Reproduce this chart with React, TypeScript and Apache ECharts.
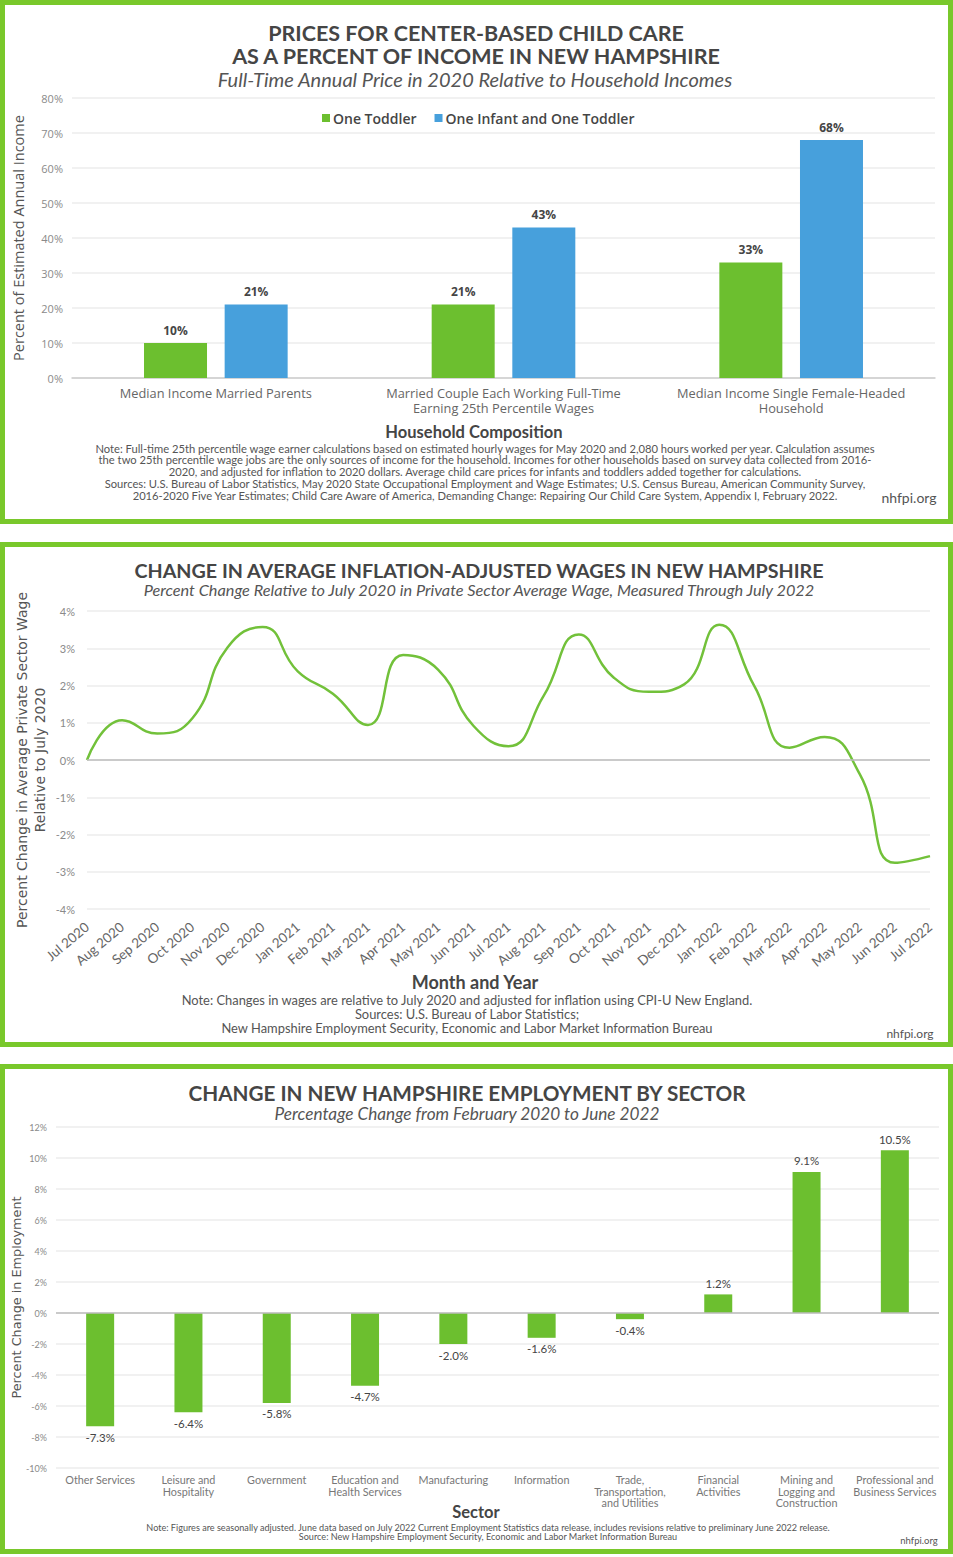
import React, { useEffect, useRef } from "react";
import * as echarts from "echarts";

// ---------- Data ----------
const householdCategories = [
  "Median Income Married Parents",
  "Married Couple Each Working Full-Time\nEarning 25th Percentile Wages",
  "Median Income Single Female-Headed\nHousehold",
];
const oneToddler = [10, 21, 33];
const infantAndToddler = [21, 43, 68];

const months = [
  "Jul 2020", "Aug 2020", "Sep 2020", "Oct 2020", "Nov 2020", "Dec 2020",
  "Jan 2021", "Feb 2021", "Mar 2021", "Apr 2021", "May 2021", "Jun 2021",
  "Jul 2021", "Aug 2021", "Sep 2021", "Oct 2021", "Nov 2021", "Dec 2021",
  "Jan 2022", "Feb 2022", "Mar 2022", "Apr 2022", "May 2022", "Jun 2022",
  "Jul 2022",
];
const wageChange = [
  0, 1.07, 0.71, 1.12, 3.02, 3.57,
  2.38, 1.78, 0.94, 2.82, 2.42, 0.92,
  0.37, 1.72, 3.37, 2.21, 1.83, 2.03,
  3.63, 1.98, 0.33, 0.62, -0.38, -2.76,
  -2.58,
];

const sectors = [
  "Other Services",
  "Leisure and\nHospitality",
  "Government",
  "Education and\nHealth Services",
  "Manufacturing",
  "Information",
  "Trade,\nTransportation,\nand Utilities",
  "Financial\nActivities",
  "Mining and\nLogging and\nConstruction",
  "Professional and\nBusiness Services",
];
const employmentChange = [-7.3, -6.4, -5.8, -4.7, -2.0, -1.6, -0.4, 1.2, 9.1, 10.5];

// ---------- Styling constants ----------
const GREEN = "#6cbf2f";
const BLUE = "#47a0dc";
const BORDER = "#79c82b";
const TITLE = "#454545";
const NOTE = "#555555";
const AXIS = "#8a8a8a";
const GRIDLINE = "#ececec";
const ZERO = "#bdbdbd";
const FONT = "Lato";
const WFONT = "Open Sans";

function txt(text: string, x: number, y: number, fontSize: number, extra: any = {}) {
  return {
    type: "text",
    x,
    y,
    silent: true,
    style: {
      text,
      fontSize,
      fontFamily: extra.fontFamily || FONT,
      fontWeight: extra.fontWeight || "normal",
      fontStyle: extra.fontStyle || "normal",
      fill: extra.fill || NOTE,
      align: extra.align || "center",
      verticalAlign: "middle",
    },
  };
}

function border(y: number, h: number) {
  return {
    type: "rect",
    silent: true,
    shape: { x: 2.5, y: y + 2.5, width: 948, height: h - 5 },
    style: { fill: "none", stroke: BORDER, lineWidth: 5 },
  };
}

export default function App() {
  const ref = useRef<HTMLDivElement>(null);

  useEffect(() => {
    if (!ref.current) return;
    const chart = echarts.init(ref.current, undefined, { renderer: "svg" });

    const note1 = [
      "Note: Full-time 25th percentile wage earner calculations based on estimated hourly wages for May 2020 and 2,080 hours worked per year. Calculation assumes",
      "the two 25th percentile wage jobs are the only sources of income for the household. Incomes for other households based on survey data collected from 2016-",
      "2020, and adjusted for inflation to 2020 dollars. Average child care prices for infants and toddlers added together for calculations.",
      "Sources: U.S. Bureau of Labor Statistics, May 2020 State Occupational Employment and Wage Estimates; U.S. Census Bureau, American Community Survey,",
      "2016-2020 Five Year Estimates; Child Care Aware of America, Demanding Change: Repairing Our Child Care System, Appendix I, February 2022.",
    ];
    const note2 = [
      "Note: Changes in wages are relative to July 2020 and adjusted for inflation using CPI-U New England.",
      "Sources: U.S. Bureau of Labor Statistics;",
      "New Hampshire Employment Security, Economic and Labor Market Information Bureau",
    ];
    const note3 = [
      "Note: Figures are seasonally adjusted. June data based on July 2022 Current Employment Statistics data release, includes revisions relative to preliminary June 2022 release.",
      "Source: New Hampshire Employment Security, Economic and Labor Market Information Bureau",
    ];

    const graphics: any[] = [
      border(0, 524),
      border(542, 505),
      border(1064, 490),
      // Chart 1
      txt("PRICES FOR CENTER-BASED CHILD CARE", 476, 32.5, 21.5, { fontWeight: "bold", fill: TITLE }),
      txt("AS A PERCENT OF INCOME IN NEW HAMPSHIRE", 476, 55.5, 21.5, { fontWeight: "bold", fill: TITLE }),
      txt("Full-Time Annual Price in 2020 Relative to Household Incomes", 475, 78.5, 20, { fontStyle: "italic", fill: NOTE }),
      txt("Household Composition", 474, 432, 16.5, { fontWeight: "bold", fill: TITLE }),
      ...note1.map((l, i) => txt(l, 485, 448 + i * 11.8, 11.2)),
      txt("nhfpi.org", 909, 497, 14),
      // Chart 2
      txt("CHANGE IN AVERAGE INFLATION-ADJUSTED WAGES IN NEW HAMPSHIRE", 479, 570, 19.7, { fontWeight: "bold", fill: TITLE }),
      txt("Percent Change Relative to July 2020 in Private Sector Average Wage, Measured Through July 2022", 479, 589, 16.3, { fontStyle: "italic", fill: NOTE }),
      txt("Month and Year", 475, 982, 18, { fontWeight: "bold", fill: TITLE }),
      ...note2.map((l, i) => txt(l, 467, 999.5 + i * 14, 12.9)),
      txt("nhfpi.org", 910, 1033, 12),
      // Chart 3
      txt("CHANGE IN NEW HAMPSHIRE EMPLOYMENT BY SECTOR", 467, 1093, 20.7, { fontWeight: "bold", fill: TITLE }),
      txt("Percentage Change from February 2020 to June 2022", 467, 1113, 17.2, { fontStyle: "italic", fill: NOTE }),
      txt("Sector", 476, 1512, 16.5, { fontWeight: "bold", fill: TITLE }),
      ...note3.map((l, i) => txt(l, 488, 1527 + i * 9.5, 9.1)),
      txt("nhfpi.org", 919, 1540, 9.5),
    ];

    const zeroLine = {
      silent: true,
      symbol: "none",
      label: { show: false },
      lineStyle: { color: ZERO, width: 1.5, type: "solid" },
      data: [{ yAxis: 0 }],
    };

    const option: any = {
      animation: false,
      backgroundColor: "#ffffff",
      graphic: graphics,
      legend: {
        data: ["One Toddler", "One Infant and One Toddler"],
        left: 317,
        top: 106,
        icon: "rect",
        itemWidth: 8,
        itemHeight: 8,
        itemGap: 18,
        textStyle: { fontFamily: WFONT, fontSize: 14, color: TITLE, fontWeight: 600, padding: [0, 0, 0, -2] },
      },
      grid: [
        { left: 72, right: 18, top: 98, height: 280, outerBoundsMode: "none" },
        { left: 87, right: 23, top: 611, height: 298, outerBoundsMode: "none" },
        { left: 56, right: 14, top: 1127, height: 341, outerBoundsMode: "none" },
      ],
      xAxis: [
        {
          type: "category",
          gridIndex: 0,
          data: householdCategories,
          axisLine: { lineStyle: { color: "#cccccc", width: 1.5 } },
          axisTick: { show: false },
          axisLabel: { fontFamily: WFONT, fontSize: 12.8, color: "#666", lineHeight: 15, margin: 7, interval: 0 },
        },
        {
          type: "category",
          gridIndex: 1,
          data: months,
          boundaryGap: false,
          axisLine: { show: false },
          axisTick: { show: false },
          axisLabel: { fontFamily: FONT, fontSize: 13.5, color: "#666", rotate: 40, margin: 16, interval: 0 },
        },
        {
          type: "category",
          gridIndex: 2,
          data: sectors,
          axisLine: { show: false, onZero: false },
          axisTick: { show: false },
          axisLabel: { fontFamily: FONT, fontSize: 10.8, color: "#777", lineHeight: 11.5, margin: 6, interval: 0 },
        },
      ],
      yAxis: [
        {
          type: "value",
          gridIndex: 0,
          min: 0,
          max: 80,
          interval: 10,
          axisLabel: { formatter: "{value}%", fontFamily: WFONT, fontSize: 11, color: AXIS, margin: 9 },
          splitLine: { lineStyle: { color: GRIDLINE, width: 1.5 } },
          name: "Percent of Estimated Annual Income",
          nameLocation: "middle",
          nameGap: 46,
          nameMoveOverlap: false,
          nameTextStyle: { fontFamily: WFONT, fontSize: 14.5, color: NOTE },
        },
        {
          type: "value",
          gridIndex: 1,
          min: -4,
          max: 4,
          interval: 1,
          axisLabel: { formatter: "{value}%", fontFamily: FONT, fontSize: 11, color: AXIS, margin: 12 },
          splitLine: { lineStyle: { color: GRIDLINE, width: 1.5 } },
          name: "Percent Change in Average Private Sector Wage\nRelative to July 2020",
          nameLocation: "middle",
          nameGap: 38,
          nameMoveOverlap: false,
          nameTextStyle: { fontFamily: "DejaVu Sans", fontSize: 14, color: NOTE, lineHeight: 18 },
        },
        {
          type: "value",
          gridIndex: 2,
          min: -10,
          max: 12,
          interval: 2,
          axisLabel: { formatter: "{value}%", fontFamily: FONT, fontSize: 9, color: AXIS, margin: 9 },
          splitLine: { lineStyle: { color: GRIDLINE, width: 1.5 } },
          name: "Percent Change in Employment",
          nameLocation: "middle",
          nameGap: 33,
          nameMoveOverlap: false,
          nameTextStyle: { fontFamily: "DejaVu Sans", fontSize: 12.8, color: NOTE },
        },
      ],
      series: [
        {
          name: "One Toddler",
          type: "bar",
          xAxisIndex: 0,
          yAxisIndex: 0,
          data: oneToddler,
          barWidth: 63,
          barGap: "28%",
          itemStyle: { color: GREEN },
          label: { show: true, position: "top", distance: 7, formatter: "{c}%", fontFamily: WFONT, fontSize: 12, fontWeight: "bold", color: TITLE },
        },
        {
          name: "One Infant and One Toddler",
          type: "bar",
          xAxisIndex: 0,
          yAxisIndex: 0,
          data: infantAndToddler,
          barWidth: 63,
          barGap: "28%",
          itemStyle: { color: BLUE },
          label: { show: true, position: "top", distance: 7, formatter: "{c}%", fontFamily: WFONT, fontSize: 12, fontWeight: "bold", color: TITLE },
        },
        {
          name: "Wage change",
          type: "line",
          xAxisIndex: 1,
          yAxisIndex: 1,
          data: wageChange,
          smooth: 0.5,
          showSymbol: false,
          lineStyle: { color: "#72c13a", width: 2.5 },
          itemStyle: { color: "#72c13a" },
          markLine: zeroLine,
        },
        {
          name: "Employment change",
          type: "bar",
          xAxisIndex: 2,
          yAxisIndex: 2,
          barWidth: 28,
          data: employmentChange.map((v) => ({
            value: v,
            label: { position: v < 0 ? "bottom" : "top" },
          })),
          itemStyle: { color: GREEN },
          label: {
            show: true,
            distance: 5,
            formatter: (p: any) => Number(p.value).toFixed(1) + "%",
            fontFamily: FONT,
            fontSize: 11.5,
            color: TITLE,
          },
          markLine: zeroLine,
        },
      ],
    };

    chart.setOption(option);
    return () => chart.dispose();
  }, []);

  return (
    <div
      ref={ref}
      style={{ position: "absolute", left: 0, top: 0, width: 953, height: 1557, background: "#fff" }}
    />
  );
}
